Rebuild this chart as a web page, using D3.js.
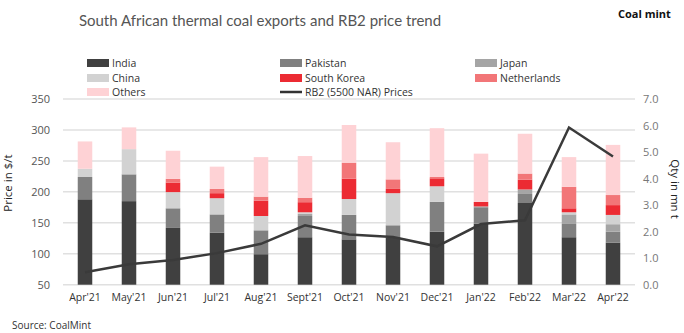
<!DOCTYPE html>
<html>
<head>
<meta charset="utf-8">
<script src="https://cdn.jsdelivr.net/npm/d3@7"></script>
<style>
  body { margin: 0; background: #fff; }
  text { font-family: "Open Sans", sans-serif; }
</style>
</head>
<body>
<div id="chart"></div>
<script>
// months on the x axis
const months = ["Apr'21", "May'21", "Jun'21", "Jul'21", "Aug'21", "Sept'21", "Oct'21",
  "Nov'21", "Dec'21", "Jan'22", "Feb'22", "Mar'22", "Apr'22"];

// export quantities, mn t
const india = [3.22, 3.15, 2.14, 1.96, 1.15, 1.79, 1.71, 1.79, 2.00, 2.30, 3.08, 1.79, 1.58];
const pakistan = [0.84, 1.01, 0.74, 0.69, 0.90, 0.80, 0.92, 0.45, 1.12, 0.62, 0.34, 0.50, 0.42];
const japan = [0, 0, 0, 0, 0, 0.08, 0, 0, 0, 0.03, 0.17, 0.36, 0.28];
const china = [0.31, 0.95, 0.61, 0.61, 0.54, 0.06, 0.60, 1.21, 0.59, 0, 0, 0.08, 0.35];
const southKorea = [0, 0, 0.36, 0.19, 0.58, 0.38, 0.77, 0.16, 0.30, 0.17, 0.37, 0.15, 0.37];
const netherlands = [0, 0, 0.14, 0.16, 0.15, 0.17, 0.60, 0.36, 0.05, 0, 0.23, 0.81, 0.38];
const others = [1.03, 0.82, 1.06, 0.84, 1.49, 1.57, 1.42, 1.40, 1.84, 1.82, 1.50, 1.12, 1.89];

// RB2 (5500 NAR) price, $/t
const prices = [70, 83, 90, 101, 116, 146, 131, 127, 112, 148, 154, 304, 257];

const seriesNames = ["India", "Pakistan", "Japan", "China", "South Korea", "Netherlands", "Others"];
const seriesData = [india, pakistan, japan, china, southKorea, netherlands, others];
const seriesColors = ["#404040", "#808080", "#a5a5a5", "#d2d2d2", "#ec2b33", "#f27678", "#fed2d5"];

const leftTicks = [50, 100, 150, 200, 250, 300, 350];
const rightTicks = [0, 1, 2, 3, 4, 5, 6, 7];

const width = 684, height = 333;
const svg = d3.select("#chart").append("svg")
  .attr("width", width)
  .attr("height", height);

const plot = { left: 63, right: 635, top: 99, bottom: 284.7 };

const x = d3.scaleBand()
  .domain(months)
  .range([plot.left, plot.right])
  .paddingInner(0.67)
  .paddingOuter(0.335);

const yLeft = d3.scaleLinear().domain([50, 350]).range([plot.bottom, plot.top]);
const yRight = d3.scaleLinear().domain([0, 7]).range([plot.bottom, plot.top]);

// title
svg.append("text")
  .attr("x", 260).attr("y", 26)
  .attr("text-anchor", "middle")
  .attr("fill", "#555")
  .style("font-family", "Lato, sans-serif")
  .style("font-size", "15px")
  .text("South African thermal coal exports and RB2 price trend");

svg.append("text")
  .attr("x", 618).attr("y", 18)
  .attr("fill", "#111")
  .style("font-size", "11px")
  .style("font-weight", "bold")
  .text("Coal mint");

// gridlines
svg.append("g")
  .selectAll("line")
  .data(leftTicks)
  .enter()
  .append("line")
  .attr("x1", plot.left).attr("x2", plot.right)
  .attr("y1", d => yLeft(d)).attr("y2", d => yLeft(d))
  .attr("stroke", "#e0e0e0")
  .attr("stroke-width", 1.5);

// left axis
const leftAxis = svg.append("g")
  .attr("transform", `translate(${plot.left - 10},0)`)
  .call(d3.axisLeft(yLeft).tickValues(leftTicks).tickSize(0));
leftAxis.select(".domain").remove();
leftAxis.selectAll("text")
  .attr("fill", "#555")
  .style("font-size", "11px")
  .style("font-family", "'Open Sans', sans-serif");

// right axis
const rightAxis = svg.append("g")
  .attr("transform", `translate(${plot.right + 5},0)`)
  .call(d3.axisRight(yRight).tickValues(rightTicks).tickSize(0).tickFormat(d3.format(".1f")));
rightAxis.select(".domain").remove();
rightAxis.selectAll("text")
  .attr("fill", "#777")
  .style("font-size", "11px")
  .style("font-family", "'Open Sans', sans-serif");

// x axis labels
const xAxis = svg.append("g")
  .attr("transform", `translate(0,${plot.bottom + 6})`)
  .call(d3.axisBottom(x).tickSize(0));
xAxis.select(".domain").remove();
xAxis.selectAll("text")
  .attr("fill", "#333")
  .style("font-size", "10.5px")
  .style("font-family", "'Open Sans', sans-serif");

// axis titles
svg.append("text")
  .attr("transform", "translate(12,183) rotate(-90)")
  .attr("text-anchor", "middle")
  .attr("fill", "#222")
  .style("font-size", "11.5px")
  .text("Price in $/t");

svg.append("text")
  .attr("transform", "translate(671,189) rotate(90)")
  .attr("text-anchor", "middle")
  .attr("fill", "#222")
  .style("font-size", "11.5px")
  .text("Qty in mn t");

// stacked bars
const table = months.map((m, i) => {
  const row = { month: m };
  seriesNames.forEach((s, k) => { row[s] = seriesData[k][i]; });
  return row;
});
const stack = d3.stack().keys(seriesNames)(table);

svg.append("g")
  .selectAll("g")
  .data(stack)
  .enter()
  .append("g")
  .attr("fill", (d, i) => seriesColors[i])
  .selectAll("rect")
  .data(d => d)
  .enter()
  .append("rect")
  .attr("x", d => x(d.data.month))
  .attr("width", x.bandwidth())
  .attr("y", d => yRight(d[1]))
  .attr("height", d => yRight(d[0]) - yRight(d[1]));

// price line
const line = d3.line()
  .x((d, i) => x(months[i]) + x.bandwidth() / 2)
  .y(d => yLeft(d));

svg.append("path")
  .datum(prices)
  .attr("d", line)
  .attr("fill", "none")
  .attr("stroke", "#3a3a3a")
  .attr("stroke-width", 2.5);

// legend
const legendItems = seriesNames.map((s, i) => ({ name: s, color: seriesColors[i], type: "rect" }));
legendItems.push({ name: "RB2 (5500 NAR) Prices", color: "#333", type: "line" });
const colX = [87, 280, 475];
const rowY = [63, 78, 92];

const legend = svg.append("g")
  .selectAll("g")
  .data(legendItems)
  .enter()
  .append("g")
  .attr("transform", (d, i) => `translate(${colX[i % 3]},${rowY[Math.floor(i / 3)]})`);

legend.filter(d => d.type === "rect")
  .append("rect")
  .attr("x", 0).attr("y", -4)
  .attr("width", 22).attr("height", 8)
  .attr("fill", d => d.color);

legend.filter(d => d.type === "line")
  .append("line")
  .attr("x1", 0).attr("x2", 22)
  .attr("y1", 0).attr("y2", 0)
  .attr("stroke", d => d.color)
  .attr("stroke-width", 2.5);

legend.append("text")
  .attr("x", 25).attr("y", 4)
  .attr("fill", "#333")
  .style("font-size", "10.5px")
  .text(d => d.name);

// source
svg.append("text")
  .attr("x", 12).attr("y", 329)
  .attr("fill", "#333")
  .style("font-size", "10px")
  .text("Source: CoalMint");
</script>
</body>
</html>
